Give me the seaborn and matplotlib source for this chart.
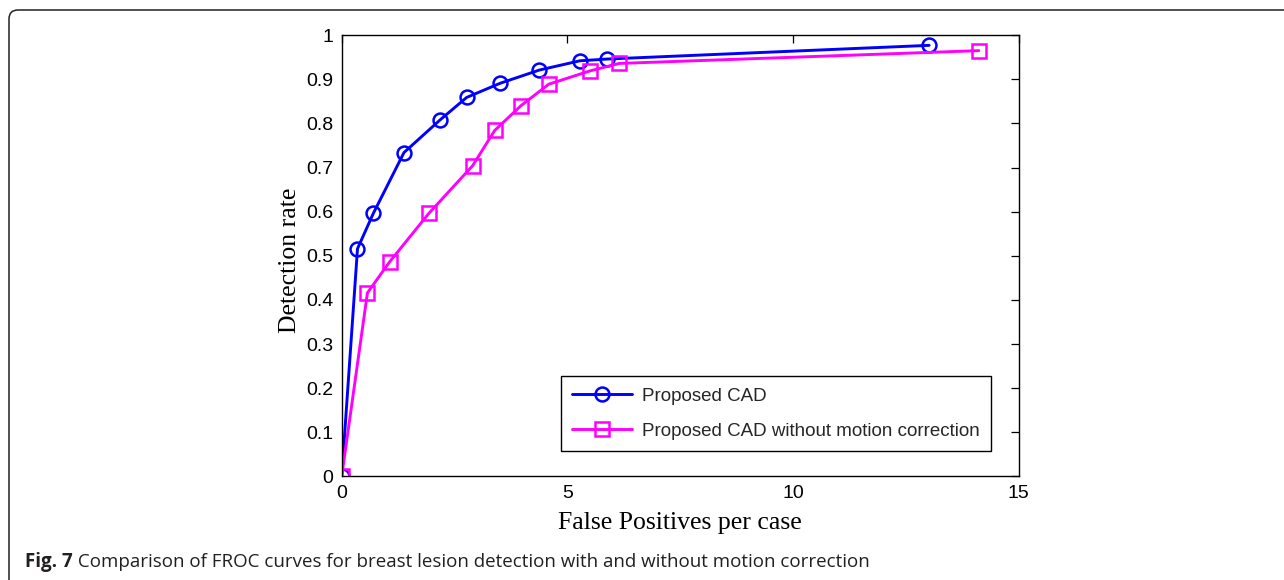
import numpy as np
import pandas as pd
import matplotlib
matplotlib.use("Agg")
import matplotlib.pyplot as plt
from matplotlib.path import Path
from matplotlib.patches import PathPatch
import seaborn as sns

# ---- data ----
cad_fp = [0.0, 0.35, 0.70, 1.38, 2.18, 2.77, 3.51, 4.38, 5.28, 5.89, 13.02]
cad_det = [0.0, 0.516, 0.596, 0.734, 0.808, 0.859, 0.891, 0.921, 0.942, 0.946, 0.977]
nomc_fp = [0.0, 0.57, 1.06, 1.93, 2.90, 3.39, 3.97, 4.59, 5.50, 6.15, 14.12]
nomc_det = [0.0, 0.416, 0.486, 0.596, 0.704, 0.784, 0.840, 0.889, 0.919, 0.936, 0.965]
series_names = ["Proposed CAD", "Proposed CAD without motion correction"]
x_ticks = [0, 5, 10, 15]
y_ticks = [0, 0.1, 0.2, 0.3, 0.4, 0.5, 0.6, 0.7, 0.8, 0.9, 1]
y_tick_labels = ["0", "0.1", "0.2", "0.3", "0.4", "0.5", "0.6", "0.7", "0.8", "0.9", "1"]
x_label = "False Positives per case"
y_label = "Detection rate"
caption_bold = "Fig. 7"
caption_rest = " Comparison of FROC curves for breast lesion detection with and without motion correction"

sns.set_theme(style="white")
plt.rcParams["font.family"] = ["Liberation Sans", "DejaVu Sans"]

W, H = 1284, 580
fig = plt.figure(figsize=(W / 100, H / 100), dpi=100)
ax = fig.add_axes([341.7 / W, 1 - 476.4 / H, 676.8 / W, 441.2 / H])

df1 = pd.DataFrame({"fp": cad_fp, "det": cad_det})
df2 = pd.DataFrame({"fp": nomc_fp, "det": nomc_det})

sns.lineplot(data=df1, x="fp", y="det", ax=ax, color=(0, 0, 1), lw=2.1,
             marker="o", markersize=10, markerfacecolor="none",
             markeredgecolor=(0, 0, 1), markeredgewidth=1.8,
             sort=False, estimator=None, label=series_names[0])
sns.lineplot(data=df2, x="fp", y="det", ax=ax, color=(1, 0, 1), lw=2.1,
             marker="s", markersize=10, markerfacecolor="none",
             markeredgecolor=(1, 0, 1), markeredgewidth=1.8,
             sort=False, estimator=None, label=series_names[1])

ax.set_xlim(0, 15)
ax.set_ylim(0, 1)
ax.set_xticks(x_ticks)
ax.set_xticklabels([str(t) for t in x_ticks])
ax.set_yticks(y_ticks)
ax.set_yticklabels(y_tick_labels)
ax.tick_params(direction="in", top=True, right=True, length=5.5, width=0.9,
               labelsize=14, colors="black", pad=6)
for s in ax.spines.values():
    s.set_color("black")
    s.set_linewidth(1.0)
ax.set_facecolor("white")

ax.set_xlabel(x_label, family=["Liberation Serif"], fontsize=18.5, color="black")
ax.set_ylabel(y_label, family=["Liberation Serif"], fontsize=18.5, color="black")
ax.xaxis.label.set_va("center")
ax.xaxis.set_label_coords(0.5, -0.106)
ax.yaxis.label.set_va("bottom")
ax.yaxis.set_label_coords(-0.06, 0.49)

leg = ax.legend(loc="lower right", bbox_to_anchor=(0.960, 0.058), fontsize=13.5,
                frameon=True, fancybox=False, edgecolor="black", framealpha=1,
                handlelength=3.2, labelspacing=0.95, borderpad=0.6,
                handletextpad=0.55, borderaxespad=0)
leg.get_frame().set_linewidth(1.0)

# caption
t1 = fig.text(25 / W, 1 - 562 / H, caption_bold, family=["Open Sans"], weight="bold",
              fontsize=13.5, va="center", ha="left", color="#231f20")
fig.canvas.draw()
bb = t1.get_window_extent(fig.canvas.get_renderer())
fig.text(bb.x1 / W, 1 - 562 / H, caption_rest, family=["Open Sans"],
         fontsize=13.5, va="center", ha="left", color="#231f20")

# frame with rounded top-left corner
r = 9
verts = [(9, H + 5), (9, 10 + r), (9, 10), (9 + r, 10), (W + 5, 10)]
codes = [Path.MOVETO, Path.LINETO, Path.CURVE3, Path.CURVE3, Path.LINETO]
verts_disp = [(x, H - y) for x, y in verts]
frame = PathPatch(Path(verts_disp, codes), transform=None, fill=False,
                  edgecolor="#222222", lw=1.1)
fig.patches.append(frame)

fig.savefig("out.png", dpi=100, facecolor="white")
